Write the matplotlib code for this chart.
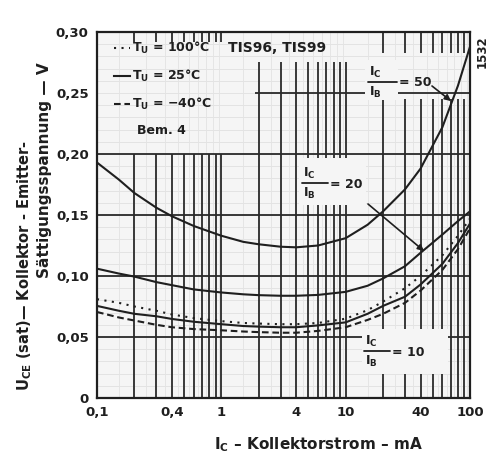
import numpy as np
import matplotlib
matplotlib.use("Agg")
import matplotlib.pyplot as plt
from matplotlib.patches import Rectangle

plt.rcParams['font.family'] = ['DejaVu Sans']
plt.rcParams['font.weight'] = 'bold'
plt.rcParams['mathtext.fontset'] = 'custom'
plt.rcParams['mathtext.rm'] = 'DejaVu Sans:bold'
plt.rcParams['mathtext.it'] = 'DejaVu Sans:bold'
plt.rcParams['mathtext.bf'] = 'DejaVu Sans:bold'

# ---- data ----
ic_ma = [0.1, 0.15, 0.2, 0.3, 0.4, 0.6, 1, 1.5, 2, 3, 4, 6, 10, 15, 20, 30, 40, 60, 80, 100]
vce_50_25c = [0.193, 0.179, 0.168, 0.156, 0.149, 0.141, 0.133, 0.128, 0.126, 0.124, 0.1235,
              0.125, 0.131, 0.142, 0.153, 0.171, 0.188, 0.222, 0.256, 0.288]
vce_20_25c = [0.106, 0.102, 0.0995, 0.095, 0.0925, 0.089, 0.0865, 0.085, 0.0843, 0.0838, 0.0838,
              0.0845, 0.087, 0.092, 0.098, 0.108, 0.119, 0.134, 0.145, 0.153]
vce_10_25c = [0.0755, 0.0715, 0.069, 0.067, 0.0648, 0.0625, 0.0605, 0.059, 0.0585, 0.058, 0.058,
              0.0595, 0.062, 0.069, 0.0755, 0.083, 0.093, 0.110, 0.127, 0.143]
vce_10_100c = [0.081, 0.078, 0.075, 0.0715, 0.0685, 0.0655, 0.063, 0.0615, 0.061, 0.0605, 0.0605,
               0.0615, 0.065, 0.072, 0.079, 0.090, 0.100, 0.117, 0.133, 0.147]
vce_10_m40c = [0.0705, 0.066, 0.0635, 0.060, 0.058, 0.0565, 0.0555, 0.0545, 0.054, 0.0535, 0.0535,
               0.055, 0.058, 0.064, 0.069, 0.078, 0.088, 0.105, 0.122, 0.139]

x_ticks = [0.1, 0.4, 1, 4, 10, 40, 100]
x_tick_labels = ['0,1', '0,4', '1', '4', '10', '40', '100']
y_ticks = [0, 0.05, 0.10, 0.15, 0.20, 0.25, 0.30]
y_tick_labels = ['0', '0,05', '0,10', '0,15', '0,20', '0,25', '0,30']
legend_labels = ['T$_U$ = 100°C', 'T$_U$ = 25°C', 'T$_U$ = −40°C']
ratio_labels = ['= 50', '= 20', '= 10']

# ---- layout ----
W, H = 498, 461
L, R, T, B = 97, 470, 32, 398
INK = '#1f1f1f'
PAPER = '#f5f5f5'

fig = plt.figure(figsize=(W / 100, H / 100), dpi=100, facecolor='white')
ax = fig.add_axes([L / W, 1 - B / H, (R - L) / W, (B - T) / H], facecolor=PAPER)
ax.set_xscale('log')
ax.set_xlim(0.1, 100)
ax.set_ylim(0, 0.30)


def P(x, y):
    """pixel position in the image -> data coordinates"""
    return 0.1 * 10 ** (3 * (x - L) / (R - L)), 0.30 * (B - y) / (B - T)


def blank(x0, y0, x1, y1):
    """paper-coloured patch that interrupts the grid behind a label"""
    (a, b), (c, d) = P(x0, y1), P(x1, y0)
    ax.add_patch(Rectangle((a, b), c - a, d - b, facecolor=PAPER, edgecolor='none', zorder=2))


def fraction(xl, ybar, bar_w, rhs):
    ax.text(*P(xl, ybar - 10), 'I$_C$', fontsize=9, ha='left', va='center', color=INK, zorder=5)
    ax.text(*P(xl, ybar + 10), 'I$_B$', fontsize=9, ha='left', va='center', color=INK, zorder=5)
    ax.annotate('', xy=P(xl + bar_w, ybar), xytext=P(xl - 1, ybar),
                arrowprops=dict(arrowstyle='-', color=INK, lw=1.3, shrinkA=0, shrinkB=0), zorder=5)
    ax.text(*P(xl + bar_w + 2, ybar + 1), rhs, fontsize=9, ha='left', va='center', color=INK, zorder=5)


# faint paper grid
for v in np.arange(0.01, 0.30, 0.01):
    ax.axhline(v, color='#e0e0e0', lw=0.6, zorder=0)
for dec in [0.1, 1, 10]:
    for m in range(1, 10):
        ax.axvline((m + 0.5) * dec, color='#e3e3e3', lw=0.6, zorder=0)

# main grid
gkw = dict(color='#2a2a2a', lw=1.3, zorder=1)
for v in [0.05, 0.10, 0.15, 0.20]:
    ax.hlines(v, 0.1, 100, **gkw)
ax.hlines(0.25, 1.85, 100, **gkw)
for m in range(2, 11):
    ax.vlines(0.1 * m, 0, 0.20, **gkw)
    ax.vlines(0.1 * m, 0.292, 0.30, **gkw)
for m in range(2, 11):
    ax.vlines(m, 0, 0.275, **gkw)
for m in range(2, 10):
    ax.vlines(10 * m, 0, 0.245, **gkw)
    ax.vlines(10 * m, 0.283, 0.30, **gkw)

# curves
ckw = dict(color=INK, lw=1.5, zorder=3)
ax.plot(ic_ma, vce_50_25c, '-', **ckw)
ax.plot(ic_ma, vce_20_25c, '-', **ckw)
h25, = ax.plot(ic_ma, vce_10_25c, '-', **ckw)
h100, = ax.plot(ic_ma, vce_10_100c, linestyle=(0, (1, 2.6)), **ckw)
hm40, = ax.plot(ic_ma, vce_10_m40c, linestyle=(0, (3.2, 1.8)), **ckw)

for s in ax.spines.values():
    s.set_linewidth(1.6)
    s.set_color(INK)
    s.set_zorder(4)

ax.set_xticks(x_ticks)
ax.set_xticklabels(x_tick_labels)
ax.set_xticks([], minor=True)
ax.set_yticks(y_ticks)
ax.set_yticklabels(y_tick_labels)
ax.tick_params(axis='both', length=0, labelsize=9.5, colors=INK, pad=6)

# legend
leg = ax.legend([h100, h25, hm40], legend_labels, loc='upper left',
                bbox_to_anchor=(0.03, 0.995), frameon=False, fontsize=9,
                handlelength=1.25, handletextpad=0.15, labelspacing=0.95,
                borderaxespad=0.1)
for t in leg.get_texts():
    t.set_color(INK)

ax.text(*P(137, 130), 'Bem. 4', fontsize=9, ha='left', va='center', color=INK, zorder=5)
ax.text(*P(228, 48), 'TIS96, TIS99', fontsize=10, ha='left', va='center', color=INK, zorder=5)

# ratio annotations
blank(365, 60, 398, 100)
fraction(369, 82, 28, ratio_labels[0])
ax.annotate('', xy=P(451, 101), xytext=P(432, 86),
            arrowprops=dict(arrowstyle='-|>', color=INK, lw=1.2, mutation_scale=9,
                            shrinkA=0, shrinkB=0), zorder=5)

blank(299, 158, 366, 205)
fraction(303, 183, 25, ratio_labels[1])
ax.annotate('', xy=P(424, 251), xytext=P(368, 204),
            arrowprops=dict(arrowstyle='-|>', color=INK, lw=1.2, mutation_scale=9,
                            shrinkA=0, shrinkB=0), zorder=5)

blank(362, 329, 448, 374)
fraction(365, 351, 25, ratio_labels[2])

# axis titles
fig.text(319 / W, 1 - 445 / H, 'I$_C$ – Kollektorstrom – mA', ha='center', va='center',
         fontsize=11, color=INK)
fig.text(25 / W, 1 - 266 / H, 'U$_{CE}$ (sat)— Kollektor - Emitter-', rotation=90,
         ha='center', va='center', fontsize=10.5, color=INK)
fig.text(44 / W, 1 - 170 / H, 'Sättigungsspannung — V', rotation=90,
         ha='center', va='center', fontsize=11, color=INK)
fig.text(482 / W, 1 - 52 / H, '1532', rotation=90, ha='center', va='center',
         fontsize=8.5, color=INK)

fig.savefig('out.png', dpi=100, facecolor='white')
